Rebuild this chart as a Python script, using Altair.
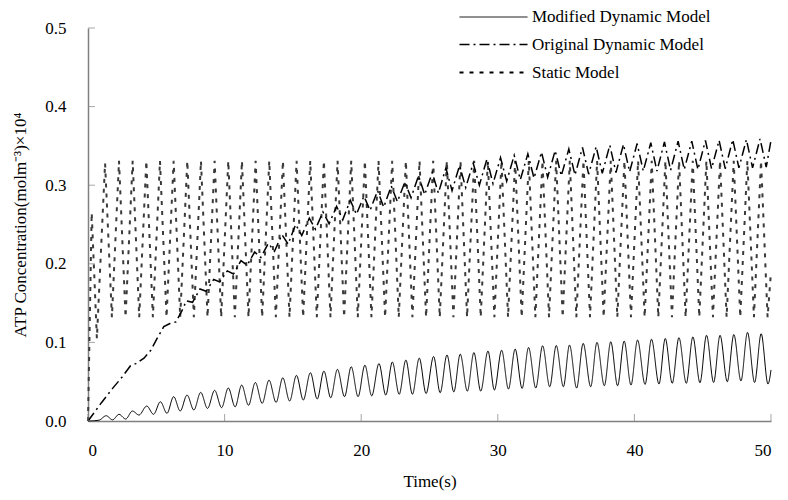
import altair as alt
import pandas as pd

series_names = ["Modified Dynamic Model", "Original Dynamic Model", "Static Model"]
x_ticks = [0, 10, 20, 30, 40, 50]
y_ticks = [0.0, 0.1, 0.2, 0.3, 0.4, 0.5]

# ---- Modified Dynamic Model (solid) ----
mdm_end_t = [0.0, 50.0]
mdm_end_y = [0.0, 0.065]
mdm_peak_t = [1.33, 2.27, 3.25, 4.30, 5.30, 6.27, 7.25, 8.25, 9.27, 10.27,
              11.25, 12.25, 13.25, 14.26, 15.26, 16.28, 17.27, 18.26, 19.27, 20.27,
              21.30, 22.28, 23.27, 24.25, 25.30, 26.28, 27.25, 28.25, 29.28, 30.28,
              31.27, 32.25, 33.28, 34.28, 35.25, 36.25, 37.26, 38.27, 39.25, 40.23,
              41.25, 42.26, 43.26, 44.28, 45.28, 46.27, 47.28, 48.28, 49.28]
mdm_peak_y = [0.0067, 0.0085, 0.0127, 0.019, 0.0245, 0.031, 0.033, 0.0364, 0.039, 0.042,
              0.0457, 0.049, 0.052, 0.055, 0.058, 0.0614, 0.0635, 0.0657, 0.069, 0.071,
              0.073, 0.075, 0.0775, 0.080, 0.082, 0.084, 0.085, 0.087, 0.089, 0.090,
              0.0915, 0.0935, 0.0957, 0.096, 0.0966, 0.0987, 0.100, 0.1008, 0.1017, 0.103,
              0.104, 0.105, 0.106, 0.107, 0.109, 0.109, 0.110, 0.1127, 0.111]
mdm_trough_t = [0.80, 1.80, 2.76, 3.73, 4.80, 5.78, 6.75, 7.75, 8.75, 9.78,
                10.77, 11.75, 12.75, 13.77, 14.76, 15.76, 16.78, 17.77, 18.78, 19.77,
                20.77, 21.80, 22.78, 23.75, 24.75, 25.78, 26.78, 27.77, 28.75, 29.75,
                30.78, 31.78, 32.78, 33.80, 34.80, 35.77, 36.80, 37.80, 38.77, 39.75,
                40.78, 41.80, 42.77, 43.80, 44.80, 45.80, 46.80, 47.80, 48.80, 49.78]
mdm_trough_y = [0.001, 0.0015, 0.0025, 0.0076, 0.0085, 0.0098, 0.0127, 0.014, 0.016, 0.017,
                0.018, 0.020, 0.0225, 0.0237, 0.0254, 0.0267, 0.028, 0.0296, 0.031, 0.031,
                0.032, 0.033, 0.034, 0.034, 0.035, 0.036, 0.037, 0.038, 0.038, 0.0394,
                0.0407, 0.0415, 0.042, 0.0436, 0.0436, 0.042, 0.0436, 0.0449, 0.0449, 0.0457,
                0.0466, 0.047, 0.048, 0.048, 0.0487, 0.049, 0.050, 0.051, 0.049, 0.047]

# ---- Original Dynamic Model (dash-dot) ----
odm_ramp_t = [0.0, 0.97, 1.8, 2.5, 3.1, 3.5, 4.1, 4.6, 5.06, 5.55, 6.0, 6.44, 6.9]
odm_ramp_y = [0.0, 0.023, 0.0415, 0.056, 0.070, 0.073, 0.080, 0.090, 0.105, 0.120, 0.124, 0.126, 0.141]
odm_end_t = [50.0]
odm_end_y = [0.357]
odm_peak_t = [7.2, 8.2, 9.2, 10.2, 11.2, 12.2, 13.2, 14.2, 15.2, 16.2,
              17.2, 18.2, 19.2, 20.2, 21.2, 22.2, 23.2, 24.2, 25.2, 26.2,
              27.2, 28.2, 29.2, 30.2, 31.2, 32.2, 33.2, 34.2, 35.2, 36.2,
              37.2, 38.2, 39.2, 40.2, 41.2, 42.2, 43.2, 44.2, 45.2, 46.2,
              47.2, 48.2, 49.2]
odm_peak_y = [0.153, 0.168, 0.180, 0.191, 0.204, 0.215, 0.226, 0.237, 0.250, 0.258,
              0.266, 0.273, 0.281, 0.286, 0.293, 0.299, 0.304, 0.312, 0.316, 0.322,
              0.325, 0.328, 0.333, 0.335, 0.338, 0.340, 0.342, 0.344, 0.346, 0.348,
              0.349, 0.351, 0.352, 0.353, 0.354, 0.355, 0.356, 0.356, 0.357, 0.357,
              0.358, 0.358, 0.359]
odm_trough_t = [7.65, 8.65, 9.65, 10.65, 11.65, 12.65, 13.65, 14.65, 15.65, 16.65,
                17.65, 18.65, 19.65, 20.65, 21.65, 22.65, 23.65, 24.65, 25.65, 26.65,
                27.65, 28.65, 29.65, 30.65, 31.65, 32.65, 33.65, 34.65, 35.65, 36.65,
                37.65, 38.65, 39.65, 40.65, 41.65, 42.65, 43.65, 44.65, 45.65, 46.65,
                47.65, 48.65, 49.65]
odm_trough_y = [0.151, 0.165, 0.177, 0.187, 0.198, 0.208, 0.216, 0.225, 0.236, 0.244,
                0.251, 0.256, 0.263, 0.268, 0.272, 0.279, 0.284, 0.288, 0.290, 0.293,
                0.297, 0.300, 0.302, 0.305, 0.307, 0.309, 0.310, 0.312, 0.313, 0.314,
                0.315, 0.316, 0.317, 0.318, 0.318, 0.319, 0.320, 0.320, 0.321, 0.321,
                0.322, 0.322, 0.323]

# ---- Static Model (dashed) ----
sm_start_t = [0.0, 0.27, 0.65]
sm_start_y = [0.0, 0.265, 0.105]
sm_end_t = [50.0]
sm_end_y = [0.19]
sm_peak_t = [1.25, 2.27, 3.27, 4.27, 5.27, 6.27, 7.27, 8.27, 9.27, 10.27,
             11.27, 12.27, 13.27, 14.27, 15.27, 16.27, 17.27, 18.27, 19.27, 20.27,
             21.27, 22.27, 23.27, 24.27, 25.27, 26.27, 27.27, 28.27, 29.27, 30.27,
             31.27, 32.27, 33.27, 34.27, 35.27, 36.27, 37.27, 38.27, 39.27, 40.27,
             41.27, 42.27, 43.27, 44.27, 45.27, 46.27, 47.27, 48.27, 49.27]
sm_peak_y = [0.328, 0.331, 0.331, 0.331, 0.331, 0.331, 0.331, 0.331, 0.331, 0.331,
             0.331, 0.331, 0.331, 0.331, 0.331, 0.331, 0.331, 0.331, 0.331, 0.331,
             0.331, 0.331, 0.331, 0.331, 0.331, 0.331, 0.331, 0.331, 0.331, 0.331,
             0.331, 0.331, 0.331, 0.331, 0.331, 0.331, 0.331, 0.331, 0.331, 0.331,
             0.331, 0.331, 0.331, 0.331, 0.331, 0.331, 0.331, 0.331, 0.331]
sm_trough_t = [1.75, 2.75, 3.75, 4.75, 5.75, 6.75, 7.75, 8.75, 9.75, 10.75,
               11.75, 12.75, 13.75, 14.75, 15.75, 16.75, 17.75, 18.75, 19.75, 20.75,
               21.75, 22.75, 23.75, 24.75, 25.75, 26.75, 27.75, 28.75, 29.75, 30.75,
               31.75, 32.75, 33.75, 34.75, 35.75, 36.75, 37.75, 38.75, 39.75, 40.75,
               41.75, 42.75, 43.75, 44.75, 45.75, 46.75, 47.75, 48.75, 49.75]
sm_trough_y = [0.132, 0.132, 0.132, 0.132, 0.132, 0.132, 0.132, 0.132, 0.132, 0.132,
               0.132, 0.132, 0.132, 0.132, 0.132, 0.132, 0.132, 0.132, 0.132, 0.132,
               0.132, 0.132, 0.132, 0.132, 0.132, 0.132, 0.132, 0.132, 0.132, 0.132,
               0.132, 0.132, 0.132, 0.132, 0.132, 0.132, 0.132, 0.132, 0.132, 0.132,
               0.132, 0.132, 0.132, 0.132, 0.132, 0.132, 0.132, 0.132, 0.132]

rows = []
def add(name, ts, ys):
    for t, y in zip(ts, ys):
        rows.append({"t": t, "y": y, "series": name})

add(series_names[0], mdm_end_t, mdm_end_y)
add(series_names[0], mdm_peak_t, mdm_peak_y)
add(series_names[0], mdm_trough_t, mdm_trough_y)
add(series_names[1], odm_ramp_t, odm_ramp_y)
add(series_names[1], odm_peak_t, odm_peak_y)
add(series_names[1], odm_trough_t, odm_trough_y)
add(series_names[1], odm_end_t, odm_end_y)
add(series_names[2], sm_start_t, sm_start_y)
add(series_names[2], sm_peak_t, sm_peak_y)
add(series_names[2], sm_trough_t, sm_trough_y)
add(series_names[2], sm_end_t, sm_end_y)
df = pd.DataFrame(rows).sort_values(["series", "t"]).reset_index(drop=True)

FONT = "Liberation Serif"

X_enc = alt.X("t:Q", scale=alt.Scale(domain=[0, 50], nice=False),
              axis=alt.Axis(values=x_ticks, title="Time(s)", format="d",
                            labelPadding=21, titlePadding=15))
Y_enc = alt.Y("y:Q", scale=alt.Scale(domain=[0, 0.5], nice=False),
              axis=alt.Axis(values=y_ticks, title="ATP Concentration(molm⁻³)×10⁴",
                            format=".1f", labelPadding=22, titlePadding=15))

legend = alt.Legend(title=None, orient="none", legendX=396, legendY=-20,
                    symbolType="M-4,0H4", symbolSize=289, labelOffset=29,
                    labelFont=FONT, labelFontSize=17, labelColor="black",
                    labelLimit=0, rowPadding=10, padding=0,
                    symbolStrokeColor="black")

dash = alt.StrokeDash("series:N",
                      scale=alt.Scale(domain=series_names,
                                      range=[[1, 0], [10, 4, 2, 4], [4, 6]]),
                      legend=legend)
width = alt.StrokeWidth("series:N",
                        scale=alt.Scale(domain=series_names, range=[1, 2, 0.8]),
                        legend=legend)

base = alt.Chart(df).encode(x=X_enc, y=Y_enc, strokeDash=dash, strokeWidth=width)

l_mdm = base.transform_filter(alt.datum.series == series_names[0]).mark_line(
    color="black", interpolate="monotone")
l_odm = base.transform_filter(alt.datum.series == series_names[1]).mark_line(
    color="black")
l_sm = base.transform_filter(alt.datum.series == series_names[2]).mark_line(
    color="#3a3a3a")

xt = alt.Chart(pd.DataFrame({"t": x_ticks})).mark_tick(
    orient="vertical", size=7, thickness=1, color="#808080", yOffset=-3.5
).encode(x=X_enc, y=alt.datum(0))
yt = alt.Chart(pd.DataFrame({"y": y_ticks})).mark_tick(
    orient="horizontal", size=7, thickness=1, color="#808080", xOffset=3.5
).encode(y=Y_enc, x=alt.datum(0))

chart = alt.layer(l_sm, l_odm, l_mdm, xt, yt).properties(
    width=683, height=393,
    autosize=alt.AutoSizeParams(type="none"),
    padding={"left": 80, "top": 20, "right": 9, "bottom": 70},
).configure_view(stroke=None).configure_axis(
    grid=False, ticks=False, domainColor="#808080", domainWidth=1.5,
    labelFont=FONT, labelFontSize=17, labelColor="black",
    titleFont=FONT, titleFontSize=17, titleFontWeight="normal", titleColor="black"
)

chart.save("out.html", embed_options={"renderer": "svg", "actions": False})
